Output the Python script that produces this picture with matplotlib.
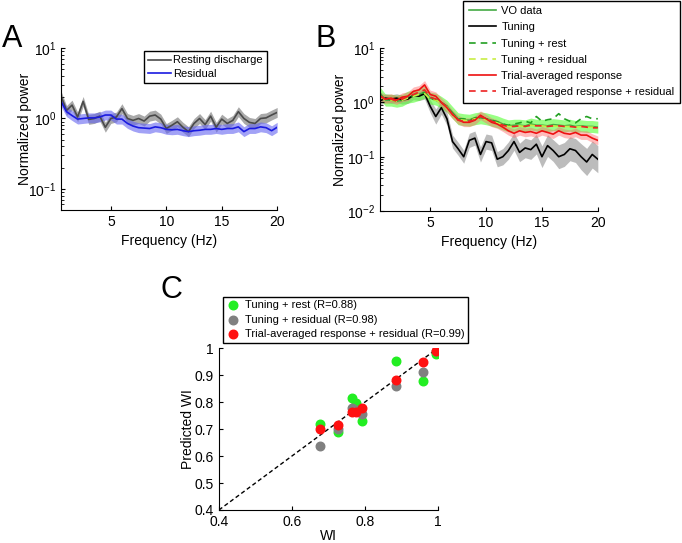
import numpy as np
import matplotlib
matplotlib.use("Agg")
import matplotlib.pyplot as plt
from matplotlib.ticker import FuncFormatter, LogLocator, NullFormatter

plt.rcParams["font.family"] = ["Liberation Sans", "DejaVu Sans"]
plt.rcParams["xtick.direction"] = "in"
plt.rcParams["ytick.direction"] = "in"

# ---------------------------------------------------------------------------
# Data
# ---------------------------------------------------------------------------
freq = np.arange(0.5, 20.01, 0.5)

# Panel A
resting = [2.1, 1.3, 1.55, 1.05, 1.75, 0.97, 1.0, 1.08, 0.75, 1.0,
           1.05, 1.38, 1.0, 0.94, 1.0, 0.92, 1.08, 1.12, 0.98, 0.72,
           0.8, 0.9, 0.75, 0.65, 0.85, 1.0, 0.82, 1.08, 0.75, 0.98,
           0.85, 0.94, 1.25, 1.0, 0.88, 0.85, 1.0, 1.02, 1.12, 1.22]
residual = [1.75, 1.25, 1.1, 0.98, 1.0, 1.02, 1.02, 1.05, 1.12, 1.12,
            0.98, 0.98, 0.85, 0.78, 0.74, 0.73, 0.72, 0.76, 0.74, 0.7,
            0.69, 0.7, 0.67, 0.65, 0.67, 0.68, 0.7, 0.7, 0.72, 0.7,
            0.72, 0.72, 0.76, 0.65, 0.72, 0.72, 0.76, 0.74, 0.67, 0.75]
resting_band = 0.07   # half-width, decades
residual_band = 0.07

# Panel B
vo_data = [1.5, 1.1, 1.1, 1.05, 1.1, 1.25, 1.3, 1.4, 1.55, 1.2,
           1.15, 1.0, 0.85, 0.65, 0.5, 0.48, 0.47, 0.5, 0.52, 0.5,
           0.47, 0.44, 0.4, 0.37, 0.38, 0.38, 0.37, 0.4, 0.38, 0.38,
           0.37, 0.39, 0.38, 0.37, 0.38, 0.36, 0.37, 0.36, 0.36, 0.35]
tuning = [1.06, 1.2, 1.15, 1.2, 1.12, 1.15, 1.35, 1.3, 1.45, 0.85,
          0.55, 0.8, 0.5, 0.19, 0.14, 0.1, 0.2, 0.22, 0.11, 0.19,
          0.18, 0.09, 0.1, 0.13, 0.19, 0.12, 0.145, 0.135, 0.17, 0.1,
          0.16, 0.13, 0.1, 0.11, 0.14, 0.13, 0.1, 0.08, 0.11, 0.09]
tuning_rest = [1.4, 1.1, 1.12, 1.05, 1.1, 1.25, 1.3, 1.45, 1.5, 1.2,
               1.1, 1.0, 0.85, 0.62, 0.5, 0.5, 0.47, 0.52, 0.55, 0.5,
               0.47, 0.44, 0.4, 0.38, 0.4, 0.42, 0.45, 0.42, 0.55, 0.45,
               0.48, 0.5, 0.62, 0.5, 0.45, 0.42, 0.5, 0.55, 0.5, 0.5]
tuning_resid = [1.3, 1.1, 1.1, 1.05, 1.1, 1.2, 1.3, 1.4, 1.45, 1.15,
                1.1, 0.98, 0.82, 0.6, 0.48, 0.47, 0.46, 0.5, 0.5, 0.48,
                0.45, 0.42, 0.38, 0.36, 0.36, 0.37, 0.36, 0.38, 0.37, 0.37,
                0.36, 0.37, 0.36, 0.36, 0.36, 0.35, 0.36, 0.35, 0.35, 0.34]
trial_avg = [1.3, 1.15, 1.2, 1.1, 1.25, 1.3, 1.6, 1.7, 2.1, 1.4,
             1.3, 1.0, 0.8, 0.6, 0.48, 0.43, 0.43, 0.47, 0.58, 0.5,
             0.43, 0.4, 0.35, 0.3, 0.27, 0.3, 0.28, 0.29, 0.27, 0.3,
             0.28, 0.26, 0.3, 0.27, 0.26, 0.28, 0.25, 0.25, 0.22, 0.2]
trial_resid = [1.35, 1.12, 1.15, 1.05, 1.15, 1.28, 1.4, 1.55, 1.7, 1.25,
               1.15, 1.0, 0.82, 0.6, 0.47, 0.45, 0.45, 0.48, 0.55, 0.5,
               0.45, 0.42, 0.38, 0.36, 0.36, 0.37, 0.36, 0.38, 0.37, 0.37,
               0.36, 0.37, 0.37, 0.36, 0.36, 0.35, 0.36, 0.35, 0.34, 0.34]
vo_band = 0.11
trial_band = 0.08
tuning_band = [0.08, 0.08, 0.08, 0.08, 0.08, 0.08, 0.08, 0.08, 0.1, 0.12,
               0.14, 0.12, 0.12, 0.12, 0.12, 0.12, 0.13, 0.13, 0.14, 0.14,
               0.14, 0.14, 0.15, 0.16, 0.16, 0.17, 0.18, 0.18, 0.18, 0.2,
               0.2, 0.2, 0.22, 0.22, 0.22, 0.22, 0.24, 0.25, 0.25, 0.25]

# Panel C
wi = [0.678, 0.726, 0.766, 0.775, 0.792, 0.884, 0.958, 0.996]
pred_rest = [0.718, 0.69, 0.814, 0.796, 0.73, 0.954, 0.88, 0.979]
pred_resid = [0.637, 0.70, 0.78, 0.77, 0.756, 0.86, 0.91, 0.988]
pred_trial = [0.70, 0.715, 0.765, 0.765, 0.78, 0.882, 0.95, 0.99]
r_rest, r_resid, r_trial = 0.88, 0.98, 0.99


def band(ax, x, y, w, color, alpha):
    y = np.asarray(y)
    w = np.asarray(w)
    ax.fill_between(x, y / 10 ** w, y * 10 ** w, color=color, alpha=alpha, lw=0)


def style(ax):
    for s in ["top", "right"]:
        ax.spines[s].set_visible(False)
    ax.tick_params(labelsize=10, length=3)
    ax.tick_params(which="minor", length=2)


def frame(leg):
    leg.get_frame().set_linewidth(1.0)
    leg.get_frame().set_edgecolor("black")


fig = plt.figure(figsize=(6.82, 5.43), dpi=100)

# ---------------------------------------------------------------------------
# A
# ---------------------------------------------------------------------------
ax_a = fig.add_axes([0.0894, 0.6133, 0.317, 0.298])
band(ax_a, freq, resting, resting_band, "#8c8c8c", 0.75)
band(ax_a, freq, residual, residual_band, "#6464f0", 0.6)
ax_a.plot(freq, resting, color="#4a4a4a", lw=1.2, label="Resting discharge")
ax_a.plot(freq, residual, color="#1a1ae0", lw=1.2, label="Residual")
ax_a.set_yscale("log")
ax_a.set_xlim(0.5, 20)
ax_a.set_ylim(0.05, 10)
ax_a.set_xticks([5, 10, 15, 20])
ax_a.set_xlabel("Frequency (Hz)", fontsize=10)
ax_a.set_ylabel("Normalized power", fontsize=10, labelpad=-3)
style(ax_a)
frame(ax_a.legend(loc="upper right", bbox_to_anchor=(0.3915, 0.906),
                  bbox_transform=fig.transFigure, fontsize=8, frameon=True,
                  fancybox=False, handlelength=2.0, labelspacing=0.3,
                  borderpad=0.4, handletextpad=0.2, borderaxespad=0,
                  framealpha=1))

# ---------------------------------------------------------------------------
# B
# ---------------------------------------------------------------------------
ax_b = fig.add_axes([0.557, 0.6114, 0.3196, 0.300])
band(ax_b, freq, tuning, tuning_band, "#a0a0a0", 0.7)
band(ax_b, freq, vo_data, vo_band, "#55ff33", 0.6)
band(ax_b, freq, trial_avg, trial_band, "#ff6a6a", 0.45)
ax_b.plot(freq, vo_data, color="#44aa44", lw=1.2, label="VO data")
ax_b.plot(freq, tuning, color="black", lw=1.2, label="Tuning")
ax_b.plot(freq, tuning_rest, color="#22a022", lw=1.2, ls=(0, (4, 3)), label="Tuning + rest")
ax_b.plot(freq, tuning_resid, color="#c8ee44", lw=1.2, ls=(0, (4, 3)), label="Tuning + residual")
ax_b.plot(freq, trial_avg, color="#ee1111", lw=1.2, label="Trial-averaged response")
ax_b.plot(freq, trial_resid, color="#ee2222", lw=1.2, ls=(0, (4, 3)),
          label="Trial-averaged response + residual")
ax_b.set_yscale("log")
ax_b.set_xlim(0.5, 20)
ax_b.set_ylim(0.01, 10)
ax_b.set_xticks([5, 10, 15, 20])
ax_b.set_xlabel("Frequency (Hz)", fontsize=10)
ax_b.set_ylabel("Normalized power", fontsize=10, labelpad=0)
style(ax_b)
frame(ax_b.legend(loc="upper right", bbox_to_anchor=(0.997, 0.999),
                  bbox_transform=fig.transFigure, fontsize=8, frameon=True,
                  fancybox=False, handlelength=2.4, labelspacing=0.56,
                  borderpad=0.5, handletextpad=0.5, borderaxespad=0,
                  framealpha=1))

for ax in (ax_a, ax_b):
    ax.yaxis.set_minor_locator(LogLocator(base=10, subs=np.arange(2, 10)))
    ax.yaxis.set_minor_formatter(NullFormatter())

# ---------------------------------------------------------------------------
# C
# ---------------------------------------------------------------------------
ax_c = fig.add_axes([0.321, 0.0608, 0.321, 0.298])
ax_c.plot([0.4, 1], [0.4, 1], color="black", lw=1.0, ls=(0, (3, 2)))
ax_c.scatter(wi, pred_rest, s=38, color="#22ee22", zorder=3,
             label=f"Tuning + rest (R={r_rest:.2f})")
ax_c.scatter(wi, pred_resid, s=38, color="#808080", zorder=3,
             label=f"Tuning + residual (R={r_resid:.2f})")
ax_c.scatter(wi, pred_trial, s=38, color="#ff1111", zorder=4,
             label=f"Trial-averaged response + residual (R={r_trial:.2f})")
ax_c.set_xlim(0.4, 1)
ax_c.set_ylim(0.4, 1)
ax_c.set_xticks([0.4, 0.6, 0.8, 1.0])
ax_c.set_yticks([0.4, 0.5, 0.6, 0.7, 0.8, 0.9, 1.0])
fmt = FuncFormatter(lambda v, p: f"{v:g}")
ax_c.xaxis.set_major_formatter(fmt)
ax_c.yaxis.set_major_formatter(fmt)
ax_c.set_xlabel("WI", fontsize=10, labelpad=0)
ax_c.set_ylabel("Predicted WI", fontsize=10, labelpad=0)
style(ax_c)
frame(ax_c.legend(loc="upper left", bbox_to_anchor=(0.327, 0.453),
                  bbox_transform=fig.transFigure, fontsize=8, frameon=True,
                  fancybox=False, handlelength=1.2, labelspacing=0.4,
                  borderpad=0.3, handletextpad=0.5, borderaxespad=0,
                  scatterpoints=1, framealpha=1))

# panel letters
fig.text(0.003, 0.928, "A", fontsize=22, va="center")
fig.text(0.462, 0.928, "B", fontsize=22, va="center")
fig.text(0.235, 0.466, "C", fontsize=22, va="center")

fig.savefig("out.png", dpi=100)
